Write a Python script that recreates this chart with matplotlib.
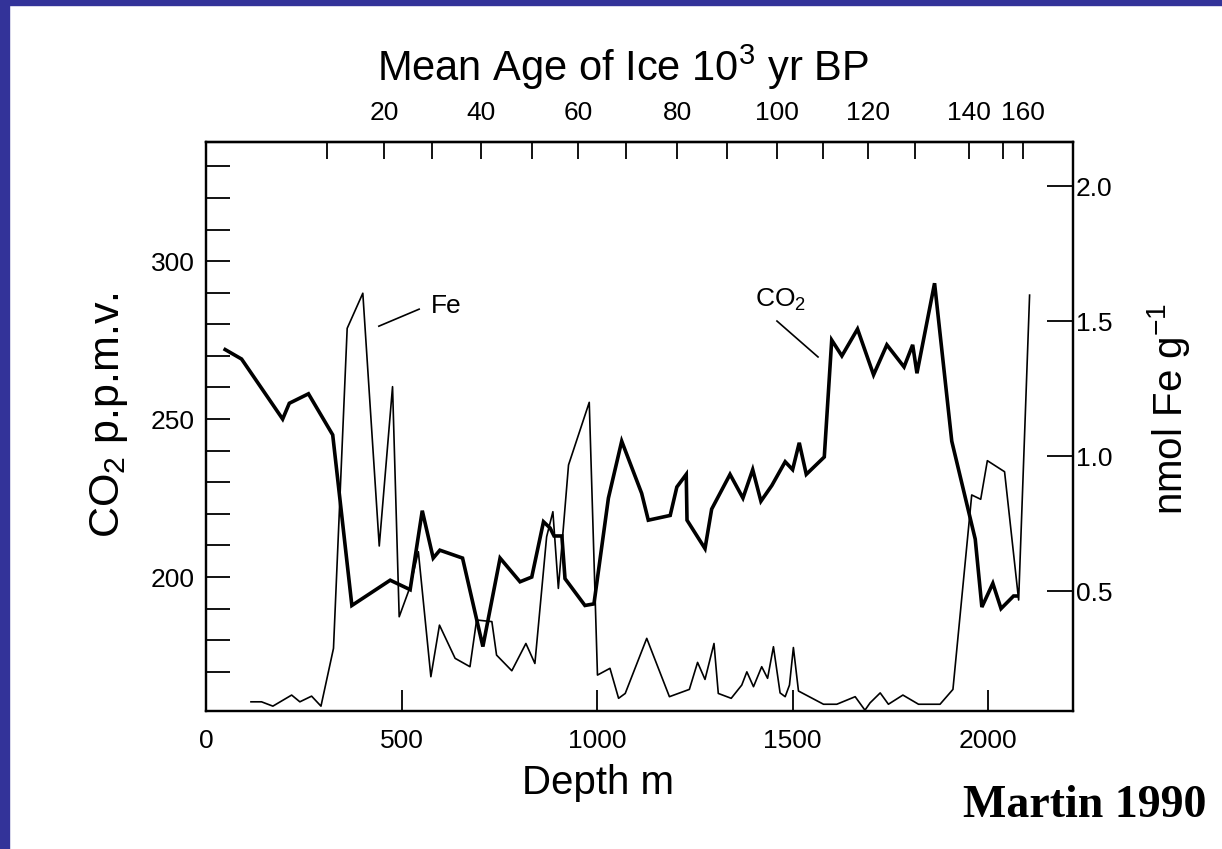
import matplotlib
matplotlib.use('Agg')
import matplotlib.pyplot as plt
from matplotlib.patches import Rectangle

plt.rcParams['font.family'] = ['Liberation Sans', 'DejaVu Sans']
plt.rcParams['mathtext.fontset'] = 'custom'
plt.rcParams['mathtext.rm'] = 'Liberation Sans'
plt.rcParams['mathtext.it'] = 'Liberation Sans:italic'
plt.rcParams['mathtext.bf'] = 'Liberation Sans:bold'

# CO2 record (depth m, p.p.m.v.)
co2_depth = [49, 91, 196, 213, 262, 324, 373, 471, 522, 553, 581, 598, 656, 708, 752, 803,
             833, 863, 880, 890, 910, 918, 969, 992, 1029, 1063, 1114, 1131, 1187, 1204, 1228, 1230,
             1276, 1293, 1340, 1373, 1398, 1419, 1447, 1481, 1500, 1517, 1535, 1581, 1600, 1626,
             1666, 1707, 1741, 1785, 1807, 1818, 1863, 1907, 1967, 1984, 2012, 2033, 2065, 2073]
co2_ppm = [272, 269, 250, 255, 258, 245, 191, 199, 196, 221, 206, 208.5, 206, 178, 206, 198.5,
           200, 217.5, 215.5, 213, 213, 199.5, 191, 191.5, 225, 243, 226.5, 218, 219.5, 228.5, 232.5, 218,
           209, 221.5, 232.5, 225, 234, 224, 229, 236.5, 234, 242.5, 232.5, 238, 275, 270,
           278.5, 264, 273.5, 266.5, 273.5, 264.5, 293, 243, 212, 190.5, 198, 190, 194, 194]

# Fe record (depth m, nmol Fe/g)
fe_depth = [115, 142, 171, 219, 240, 270, 294, 326, 361, 401, 443, 477, 494, 522, 543, 575,
            597, 637, 675, 692, 731, 743, 782, 818, 841, 871, 887, 901, 927, 980, 1001, 1033,
            1055, 1072, 1127, 1185, 1236, 1257, 1276, 1299, 1310, 1343, 1370, 1383, 1400, 1421,
            1436, 1451, 1468, 1481, 1492, 1502, 1515, 1579, 1613, 1660, 1685, 1698, 1724, 1745,
            1782, 1822, 1877, 1910, 1958, 1981, 1998, 2042, 2078, 2106]
fe_val = [0.09, 0.09, 0.074, 0.115, 0.09, 0.111, 0.074, 0.288, 1.473, 1.603, 0.667, 1.257, 0.405, 0.516, 0.646, 0.183,
          0.374, 0.251, 0.22, 0.393, 0.387, 0.263, 0.205, 0.306, 0.232, 0.701, 0.794, 0.51, 0.967, 1.199, 0.189, 0.214,
          0.103, 0.121, 0.325, 0.109, 0.136, 0.236, 0.173, 0.306, 0.121, 0.103, 0.152, 0.201, 0.146, 0.22,
          0.177, 0.294, 0.123, 0.109, 0.152, 0.291, 0.13, 0.081, 0.081, 0.109, 0.059, 0.086, 0.123, 0.081,
          0.115, 0.081, 0.081, 0.136, 0.856, 0.84, 0.983, 0.942, 0.467, 1.596]

# top axis: ice age (10^3 yr) ticks placed at depth
age_kyr = [10, 20, 30, 40, 50, 60, 70, 80, 90, 100, 110, 120, 130, 140, 150, 160]
age_depth = [309, 455, 578, 703, 834, 951, 1074, 1205, 1332, 1460, 1578, 1693, 1813, 1951, 2038, 2090]
age_labeled = [20, 40, 60, 80, 100, 120, 140, 160]

depth_ticks = [0, 500, 1000, 1500, 2000]
co2_ticks = [170, 180, 190, 200, 210, 220, 230, 240, 250, 260, 270, 280, 290, 300, 310, 320, 330]
co2_labeled = [200, 250, 300]
fe_ticks = [0.5, 1.0, 1.5, 2.0]

W, H = 1222, 849
fig = plt.figure(figsize=(W / 100, H / 100), dpi=100)
fig.patches.append(Rectangle((0, 1 - 5 / H), 1, 5 / H, transform=fig.transFigure, color='#333399', zorder=0))
fig.patches.append(Rectangle((0, 0), 9 / W, 1, transform=fig.transFigure, color='#333399', zorder=0))

ax = fig.add_axes([206 / W, 1 - 711 / H, (1073 - 206) / W, (711 - 142) / H])
ax2 = ax.twinx()

ax.plot(co2_depth, co2_ppm, color='black', lw=2.6, solid_joinstyle='miter')
ax2.plot(fe_depth, fe_val, color='black', lw=1.2)

ax.set_xlim(0, 2217)
ax.set_ylim(157.6, 337.7)
ax2.set_ylim(0.056, 2.163)

ax.set_xticks(depth_ticks)
ax.set_xticklabels([str(d) for d in depth_ticks])
ax.set_yticks(co2_ticks)
ax.set_yticklabels([str(c) if c in co2_labeled else '' for c in co2_ticks])
ax2.set_yticks(fe_ticks)
ax2.set_yticklabels(['%.1f' % v for v in fe_ticks])

ax.tick_params(axis='x', direction='in', length=15, width=1.3, pad=13, labelsize=19)
ax.tick_params(axis='y', direction='in', length=17, width=1.3, pad=8, labelsize=19)
ax.tick_params(axis='x', which='both', bottom=True, top=False)
ax2.tick_params(axis='y', direction='in', length=19, width=1.3, pad=2, labelsize=19)

top = ax.secondary_xaxis('top')
top.set_xticks(age_depth)
top.set_xticklabels([str(a) if a in age_labeled else '' for a in age_kyr])
top.tick_params(direction='in', length=12, width=1.3, pad=12, labelsize=19)

for a in (ax, ax2):
    for s in a.spines.values():
        s.set_linewidth(1.6)
top.spines['top'].set_linewidth(1.6)

# curve labels
ax2.plot([442, 545], [1.481, 1.544], color='black', lw=1.2)
ax2.text(575, 1.556, 'Fe', fontsize=19, ha='left', va='center')
ax2.plot([1460, 1565], [1.5, 1.367], color='black', lw=1.2)
ax2.text(1468, 1.578, 'CO$_2$', fontsize=19, ha='center', va='center')

fig.text(623 / W, 1 - 67 / H, 'Mean Age of Ice 10$^3$ yr BP', fontsize=30, ha='center', va='center')
fig.text(109 / W, 1 - 415 / H, 'CO$_2$ p.p.m.v.', fontsize=31, rotation=90, ha='center', va='center')
fig.text(1168 / W, 1 - 409 / H, 'nmol Fe g$^{-1}$', fontsize=29, rotation=90, ha='center', va='center')
fig.text(598 / W, 1 - 783 / H, 'Depth m', fontsize=29, ha='center', va='center')
fig.text(1085 / W, 1 - 806 / H, 'Martin 1990', fontsize=33, fontweight='bold',
         family='Liberation Serif', ha='center', va='center')

fig.savefig('out.png', dpi=100)
